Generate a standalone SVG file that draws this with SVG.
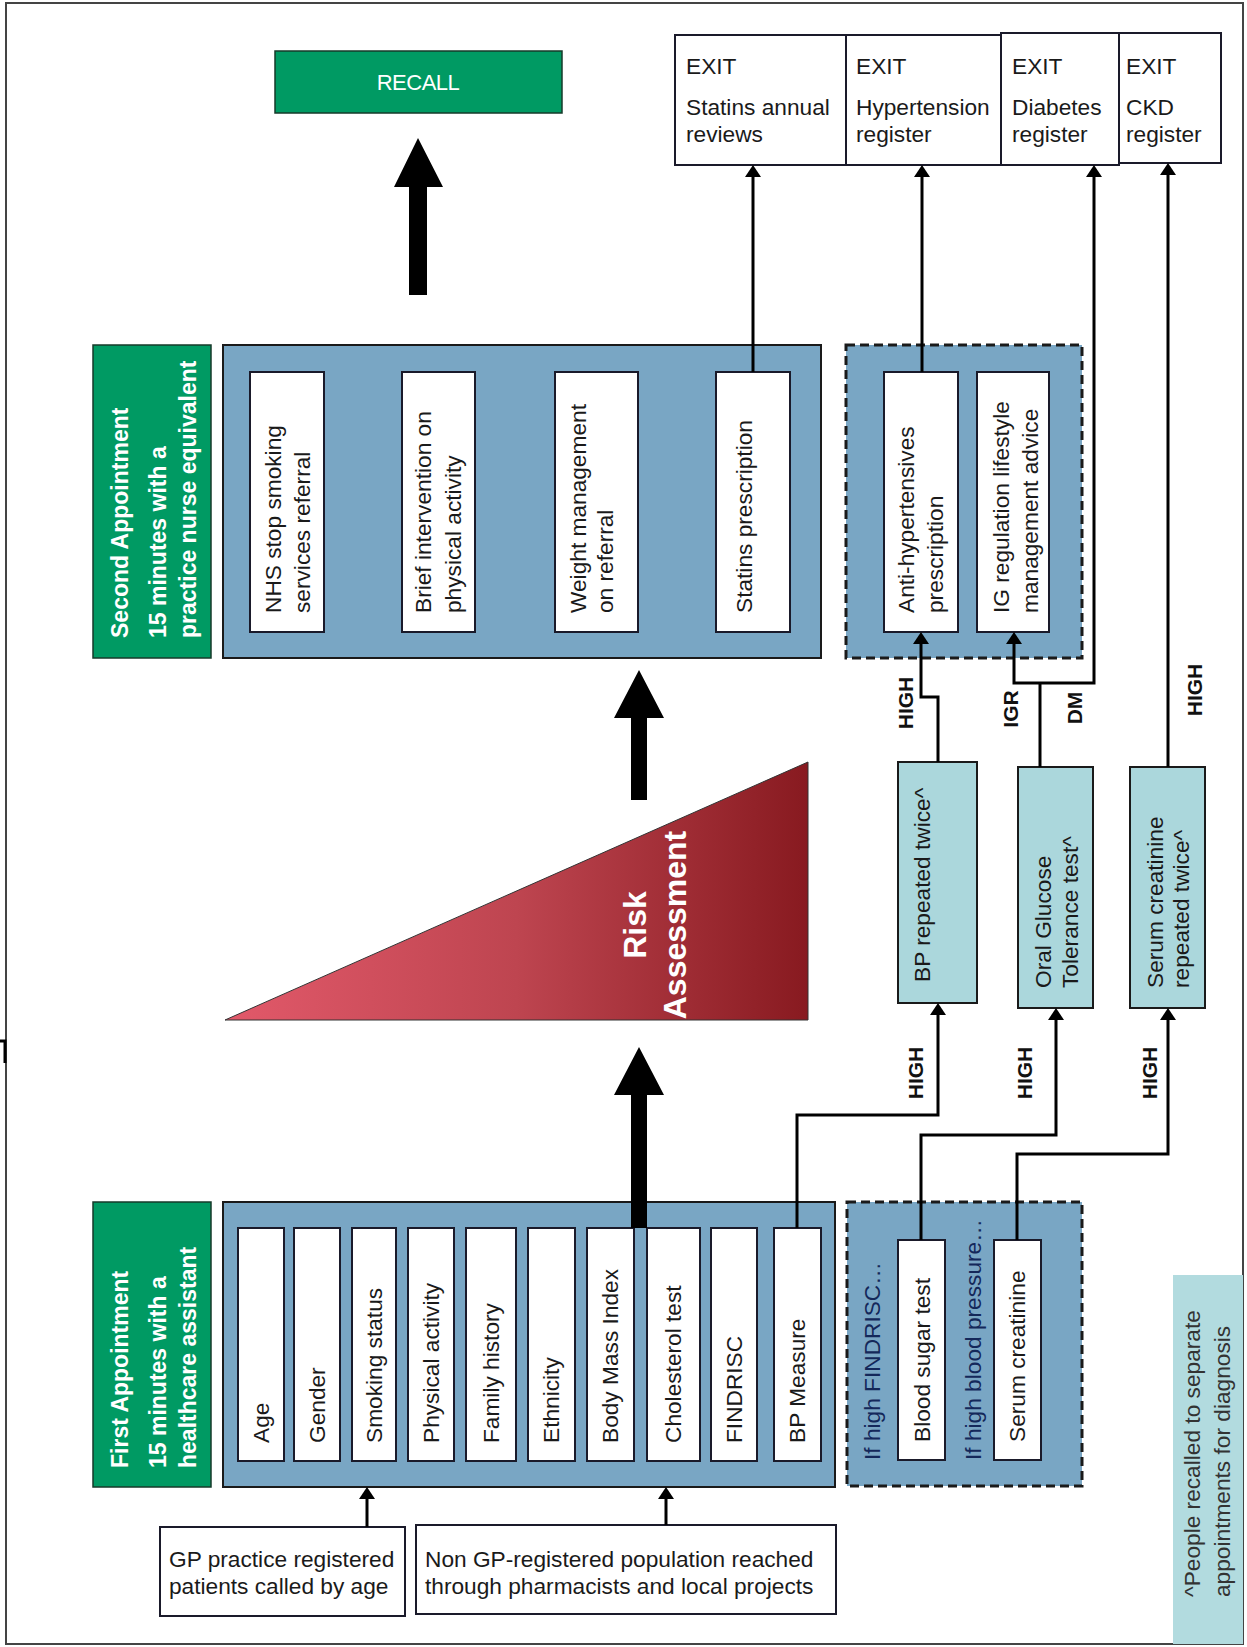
<svg xmlns="http://www.w3.org/2000/svg" width="1247" height="1647" viewBox="0 0 1247 1647">
<defs>
<style>
.t{font-family:"Liberation Sans",Arial,sans-serif;font-size:22.7px;fill:#1a1a1a}
.tw{font-family:"Liberation Sans",Arial,sans-serif;font-size:23px;font-weight:bold;fill:#ffffff}
.lbl{font-family:"Liberation Sans",Arial,sans-serif;font-size:21px;font-weight:bold;fill:#111111}
.nav{font-family:"Liberation Sans",Arial,sans-serif;font-size:22.7px;fill:#14285a}
.box{fill:#ffffff;stroke:#1a1a2a;stroke-width:2}
.cont{fill:#79A6C4;stroke:#1a1a1a;stroke-width:2}
.dash{fill:#79A6C4;stroke:#1a1a1a;stroke-width:3;stroke-dasharray:9 5}
.green{fill:#009A63;stroke:#163a2a;stroke-width:1.5}
.teal{fill:#ABD7DC;stroke:#1a1a1a;stroke-width:2}
.conn{fill:none;stroke:#000000;stroke-width:3}
.big{fill:#000000}
</style>
<marker id="ah" markerUnits="userSpaceOnUse" markerWidth="12" markerHeight="16" viewBox="0 0 12 16" refX="9" refY="8" orient="auto">
<path d="M0,0 L12,8 L0,16 z" fill="#000"/>
</marker>
<linearGradient id="risk" x1="0" y1="0" x2="1" y2="0">
<stop offset="0" stop-color="#E2596A"/>
<stop offset="0.5" stop-color="#BE4550"/>
<stop offset="1" stop-color="#881A20"/>
</linearGradient>
</defs>
<rect x="0" y="0" width="1247" height="1647" fill="#ffffff"/>
<rect x="6" y="3" width="1237" height="1641" fill="none" stroke="#444" stroke-width="2"/>
<path d="M0 1041 H5 V1063" fill="none" stroke="#000" stroke-width="3"/>

<g id="recall">
<rect x="275" y="51" width="287" height="62" class="green"/>
<text x="418" y="90" text-anchor="middle" style="font-family:'Liberation Sans',Arial,sans-serif;font-size:22px;fill:#fff;letter-spacing:-0.5px">RECALL</text>
</g>

<g id="exit-statins">
<rect x="675" y="35" width="171" height="130" class="box"/>
<text class="t" x="686" y="74">EXIT</text>
<text class="t" x="686" y="115">Statins annual</text>
<text class="t" x="686" y="142">reviews</text>
</g>
<g id="exit-hypertension">
<rect x="846" y="35" width="155" height="130" class="box"/>
<text class="t" x="856" y="74">EXIT</text>
<text class="t" x="856" y="115">Hypertension</text>
<text class="t" x="856" y="142">register</text>
</g>
<g id="exit-diabetes">
<rect x="1001" y="33" width="118" height="132" class="box"/>
<text class="t" x="1012" y="74">EXIT</text>
<text class="t" x="1012" y="115">Diabetes</text>
<text class="t" x="1012" y="142">register</text>
</g>
<g id="exit-ckd">
<rect x="1119" y="33" width="102" height="130" class="box"/>
<text class="t" x="1126" y="74">EXIT</text>
<text class="t" x="1126" y="115">CKD</text>
<text class="t" x="1126" y="142">register</text>
</g>

<g id="second-appointment">
<rect x="93" y="345" width="118" height="313" class="green"/>
<text class="tw" transform="translate(128,638) rotate(-90)">Second Appointment</text>
<text class="tw" transform="translate(166,638) rotate(-90)">15 minutes with a</text>
<text class="tw" transform="translate(196,638) rotate(-90)">practice nurse equivalent</text>
</g>
<g id="second-container">
<rect x="223" y="345" width="598" height="313" class="cont"/>
</g>
<g id="nhs-stop-smoking">
<rect x="250" y="372" width="74" height="260" class="box"/>
<text class="t" transform="translate(281,613) rotate(-90)">NHS stop smoking</text>
<text class="t" transform="translate(310,613) rotate(-90)">services referral</text>
</g>
<g id="brief-intervention">
<rect x="402" y="372" width="73" height="260" class="box"/>
<text class="t" transform="translate(431,613) rotate(-90)">Brief intervention on</text>
<text class="t" transform="translate(461,613) rotate(-90)">physical activity</text>
</g>
<g id="weight-management">
<rect x="555" y="372" width="83" height="260" class="box"/>
<text class="t" transform="translate(586,613) rotate(-90)">Weight management</text>
<text class="t" transform="translate(613,613) rotate(-90)">on referral</text>
</g>
<g id="statins-prescription">
<rect x="716" y="372" width="74" height="260" class="box"/>
<text class="t" transform="translate(752,613) rotate(-90)">Statins prescription</text>
</g>
<g id="second-dashed">
<rect x="846" y="345" width="236" height="313" class="dash"/>
</g>
<g id="anti-hypertensives">
<rect x="884" y="372" width="74" height="260" class="box"/>
<text class="t" transform="translate(914,613) rotate(-90)">Anti-hypertensives</text>
<text class="t" transform="translate(943,613) rotate(-90)">prescription</text>
</g>
<g id="ig-regulation">
<rect x="977" y="372" width="72" height="260" class="box"/>
<text class="t" transform="translate(1009,613) rotate(-90)">IG regulation lifestyle</text>
<text class="t" transform="translate(1038,613) rotate(-90)">management advice</text>
</g>

<g id="risk-assessment">
<polygon points="225,1020 808,762 808,1020" fill="url(#risk)" stroke="#333" stroke-width="1"/>
<text transform="translate(646,925) rotate(-90)" text-anchor="middle" style="font-family:'Liberation Sans',Arial,sans-serif;font-size:32px;font-weight:bold;fill:#fff">Risk</text>
<text transform="translate(686,925) rotate(-90)" text-anchor="middle" style="font-family:'Liberation Sans',Arial,sans-serif;font-size:32px;font-weight:bold;fill:#fff">Assessment</text>
</g>

<g id="bp-repeated">
<rect x="898" y="762" width="79" height="241" class="teal"/>
<text class="t" transform="translate(930,982) rotate(-90)">BP repeated twice^</text>
</g>
<g id="ogtt">
<rect x="1018" y="767" width="75" height="241" class="teal"/>
<text class="t" transform="translate(1051,988) rotate(-90)">Oral Glucose</text>
<text class="t" transform="translate(1078,988) rotate(-90)">Tolerance test^</text>
</g>
<g id="serum-repeated">
<rect x="1130" y="767" width="75" height="241" class="teal"/>
<text class="t" transform="translate(1163,988) rotate(-90)">Serum creatinine</text>
<text class="t" transform="translate(1189,988) rotate(-90)">repeated twice^</text>
</g>

<g id="first-appointment">
<rect x="93" y="1202" width="118" height="285" class="green"/>
<text class="tw" transform="translate(128,1468) rotate(-90)">First Appointment</text>
<text class="tw" transform="translate(166,1468) rotate(-90)">15 minutes with a</text>
<text class="tw" transform="translate(196,1468) rotate(-90)">healthcare assistant</text>
</g>
<g id="first-container">
<rect x="223" y="1202" width="612" height="285" class="cont"/>
</g>
<g id="age"><rect x="238" y="1228" width="46" height="233" class="box"/><text class="t" transform="translate(269,1443) rotate(-90)">Age</text></g>
<g id="gender"><rect x="294" y="1228" width="46" height="233" class="box"/><text class="t" transform="translate(325,1443) rotate(-90)">Gender</text></g>
<g id="smoking-status"><rect x="352" y="1228" width="44" height="233" class="box"/><text class="t" transform="translate(382,1443) rotate(-90)">Smoking status</text></g>
<g id="physical-activity"><rect x="408" y="1228" width="46" height="233" class="box"/><text class="t" transform="translate(439,1443) rotate(-90)">Physical activity</text></g>
<g id="family-history"><rect x="466" y="1228" width="50" height="233" class="box"/><text class="t" transform="translate(499,1443) rotate(-90)">Family history</text></g>
<g id="ethnicity"><rect x="528" y="1228" width="47" height="233" class="box"/><text class="t" transform="translate(559,1443) rotate(-90)">Ethnicity</text></g>
<g id="bmi"><rect x="587" y="1228" width="47" height="233" class="box"/><text class="t" transform="translate(618,1443) rotate(-90)">Body Mass Index</text></g>
<g id="cholesterol"><rect x="647" y="1228" width="53" height="233" class="box"/><text class="t" transform="translate(681,1443) rotate(-90)">Cholesterol test</text></g>
<g id="findrisc"><rect x="711" y="1228" width="46" height="233" class="box"/><text class="t" transform="translate(742,1443) rotate(-90)">FINDRISC</text></g>
<g id="bp-measure"><rect x="774" y="1228" width="47" height="233" class="box"/><text class="t" transform="translate(805,1443) rotate(-90)">BP Measure</text></g>

<g id="first-dashed">
<rect x="847" y="1202" width="235" height="284" class="dash"/>
<text class="nav" transform="translate(880,1460) rotate(-90)">If high FINDRISC…</text>
<text class="nav" transform="translate(981,1460) rotate(-90)">If high blood pressure…</text>
</g>
<g id="blood-sugar"><rect x="898" y="1240" width="47" height="220" class="box"/><text class="t" transform="translate(930,1442) rotate(-90)">Blood sugar test</text></g>
<g id="serum-creatinine"><rect x="994" y="1240" width="47" height="220" class="box"/><text class="t" transform="translate(1025,1442) rotate(-90)">Serum creatinine</text></g>

<g id="gp-registered">
<rect x="160" y="1527" width="245" height="89" class="box"/>
<text class="t" x="169" y="1567">GP practice registered</text>
<text class="t" x="169" y="1594">patients called by age</text>
</g>
<g id="non-gp">
<rect x="416" y="1525" width="420" height="89" class="box"/>
<text class="t" x="425" y="1567">Non GP-registered population reached</text>
<text class="t" x="425" y="1594">through pharmacists and local projects</text>
</g>

<g id="footnote">
<rect x="1173" y="1275" width="70" height="369" fill="#B2DBDF"/>
<text class="t" transform="translate(1200,1597) rotate(-90)" style="fill:#333">^People recalled to separate</text>
<text class="t" transform="translate(1230,1597) rotate(-90)" style="fill:#333">appointments for diagnosis</text>
</g>

<g id="connectors">
<polygon class="big" points="409,295 427,295 427,187 443,187 418,138 394,187 409,187"/>
<polygon class="big" points="631,800 647,800 647,718 664,718 639,670 614,718 631,718"/>
<polygon class="big" points="631,1228 647,1228 647,1095 664,1095 639,1047 614,1095 631,1095"/>
<path class="conn" d="M753 372 V168" marker-end="url(#ah)"/>
<path class="conn" d="M922 372 V168" marker-end="url(#ah)"/>
<path class="conn" d="M1040 767 V683"/>
<path class="conn" d="M1040 683 H1094 V168" marker-end="url(#ah)"/>
<path class="conn" d="M1040 683 H1014 V635" marker-end="url(#ah)"/>
<path class="conn" d="M1168 767 V166" marker-end="url(#ah)"/>
<path class="conn" d="M938 762 V697 H921 V635" marker-end="url(#ah)"/>
<path class="conn" d="M797 1228 V1115 H938 V1006" marker-end="url(#ah)"/>
<path class="conn" d="M921 1240 V1135 H1056 V1011" marker-end="url(#ah)"/>
<path class="conn" d="M1017 1240 V1154 H1168 V1011" marker-end="url(#ah)"/>
<path class="conn" d="M367 1527 V1490" marker-end="url(#ah)"/>
<path class="conn" d="M666 1525 V1490" marker-end="url(#ah)"/>
<text class="lbl" transform="translate(913,703) rotate(-90)" text-anchor="middle">HIGH</text>
<text class="lbl" transform="translate(1018,709) rotate(-90)" text-anchor="middle">IGR</text>
<text class="lbl" transform="translate(1082,708) rotate(-90)" text-anchor="middle">DM</text>
<text class="lbl" transform="translate(1202,690) rotate(-90)" text-anchor="middle">HIGH</text>
<text class="lbl" transform="translate(923,1073) rotate(-90)" text-anchor="middle">HIGH</text>
<text class="lbl" transform="translate(1032,1073) rotate(-90)" text-anchor="middle">HIGH</text>
<text class="lbl" transform="translate(1157,1073) rotate(-90)" text-anchor="middle">HIGH</text>
</g>
</svg>
